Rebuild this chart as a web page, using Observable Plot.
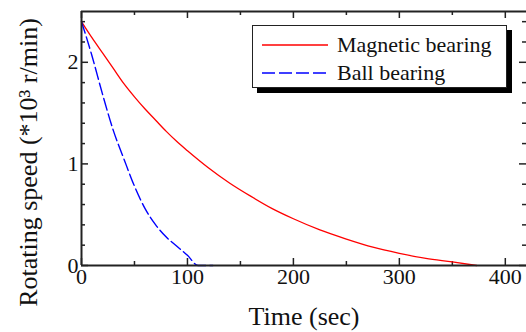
<!DOCTYPE html>
<html>
<head>
<meta charset="utf-8">
<script src="https://cdn.jsdelivr.net/npm/d3@7"></script>
<script src="https://cdn.jsdelivr.net/npm/@observablehq/plot@0.6"></script>
<style>
  html, body { margin: 0; padding: 0; background: #fff; }
  #wrap { position: relative; width: 526px; height: 332px; overflow: hidden; font-family: "Liberation Serif", serif; }
  #legend { position: absolute; left: 252px; top: 25px; width: 253px; height: 61px; border: 1.5px solid #222; background: #fff; box-shadow: 5px 5px 0 #000; }
  .lrow { position: absolute; left: 0; height: 26px; width: 100%; }
  .lrow svg { position: absolute; left: 9px; top: 0; }
  .lrow span { position: absolute; left: 84px; top: 0; font-size: 22px; line-height: 26px; color: #111; white-space: nowrap; }
</style>
</head>
<body>
<div id="wrap"></div>
<script>
// Data
const seriesNames = ["Magnetic bearing", "Ball bearing"];
const magneticTime  = [0, 10, 20, 30, 40, 50, 60, 70, 80, 90, 100, 120, 140, 160, 180, 200, 225, 250, 275, 300, 325, 350, 373];
const magneticSpeed = [2.40, 2.24, 2.09, 1.94, 1.79, 1.66, 1.54, 1.43, 1.32, 1.22, 1.13, 0.96, 0.81, 0.68, 0.56, 0.46, 0.35, 0.26, 0.18, 0.12, 0.07, 0.035, 0];
const ballTime  = [0, 10, 20, 30, 40, 50, 60, 70, 80, 90, 100, 110, 124];
const ballSpeed = [2.40, 2.06, 1.68, 1.33, 1.05, 0.78, 0.56, 0.40, 0.28, 0.19, 0.10, 0, 0];
const xMajorTicks = [0, 100, 200, 300, 400];
const xMinorTicks = [50, 150, 250, 350];
const yMajorTicks = [0, 1, 2];
const yMinorTicks = [0.2, 0.4, 0.6, 0.8, 1.2, 1.4, 1.6, 1.8, 2.2, 2.4];
const xTitle = "Time (sec)";
const yTitle = "Rotating speed (*10³ r/min)";

const magnetic = magneticTime.map((t, i) => ({t, v: magneticSpeed[i]}));
const ball = ballTime.map((t, i) => ({t, v: ballSpeed[i]}));

const xDomain = [0, 420], yDomain = [0, 2.5];
const W = 526, H = 332, mL = 81, mR = 0, mT = 11, mB = 67;
const pxX = (xDomain[1] - xDomain[0]) / (W - mL - mR);
const pxY = (yDomain[1] - yDomain[0]) / (H - mT - mB);
const major = 7, minor = 4;
const axisColor = "#222";

const xt = (ticks, len) => [
  Plot.ruleX(ticks, {x: d => d, y1: yDomain[0], y2: yDomain[0] + len * pxY, stroke: axisColor, strokeWidth: 1.5}),
  Plot.ruleX(ticks, {x: d => d, y1: yDomain[1], y2: yDomain[1] - len * pxY, stroke: axisColor, strokeWidth: 1.5})
];
const yt = (ticks, len) => [
  Plot.ruleY(ticks, {y: d => d, x1: xDomain[0], x2: xDomain[0] + len * pxX, stroke: axisColor, strokeWidth: 1.5}),
  Plot.ruleY(ticks, {y: d => d, x1: xDomain[1], x2: xDomain[1] - len * pxX, stroke: axisColor, strokeWidth: 1.5})
];

const chart = Plot.plot({
  width: W, height: H,
  marginLeft: mL, marginRight: mR, marginTop: mT, marginBottom: mB,
  x: {domain: xDomain},
  y: {domain: yDomain},
  style: {fontFamily: "'Liberation Serif', serif", fontSize: "22px", color: "#111", background: "white", overflow: "visible"},
  marks: [
    Plot.axisX({ticks: xMajorTicks, tickSize: 0, tickPadding: 3, label: null, fontSize: 22, tickFormat: d => String(d)}),
    Plot.axisY({ticks: yMajorTicks, tickSize: 0, tickPadding: 3, label: null, fontSize: 22, tickFormat: d => String(d)}),
    ...xt(xMajorTicks, major), ...xt(xMinorTicks, minor),
    ...yt(yMajorTicks, major), ...yt(yMinorTicks, minor),
    Plot.line(magnetic, {x: "t", y: "v", stroke: "#ff0000", strokeWidth: 1.3, curve: "monotone-x"}),
    Plot.line(ball, {x: "t", y: "v", stroke: "#0000ff", strokeWidth: 1.4, strokeDasharray: "12,4", curve: "monotone-x"}),
    Plot.ruleX([xDomain[0]], {stroke: axisColor, strokeWidth: 2}),
    Plot.ruleY([yDomain[0], yDomain[1]], {stroke: axisColor, strokeWidth: 2}),
    Plot.text([xTitle], {text: d => d, frameAnchor: "bottom", dy: 51, fontSize: 26, textAnchor: "middle", lineAnchor: "middle"}),
    Plot.text([yTitle], {text: d => d, frameAnchor: "left", rotate: -90, dx: -53, dy: 24, fontSize: 26, textAnchor: "middle", lineAnchor: "middle"})
  ]
});

const wrap = document.getElementById("wrap");
wrap.appendChild(chart);

// Legend overlay
const legend = document.createElement("div");
legend.id = "legend";
const styles = [
  {stroke: "#ff0000", dash: null, w: 1.6},
  {stroke: "#0000ff", dash: "13,4", w: 1.6}
];
seriesNames.forEach((name, i) => {
  const row = document.createElement("div");
  row.className = "lrow";
  row.style.top = (6 + i * 28) + "px";
  const s = styles[i];
  row.innerHTML = `<svg width="66" height="26"><line x1="0" x2="66" y1="13" y2="13" stroke="${s.stroke}" stroke-width="${s.w}" ${s.dash ? `stroke-dasharray="${s.dash}"` : ""}/></svg><span>${name}</span>`;
  legend.appendChild(row);
});
wrap.appendChild(legend);
</script>
</body>
</html>
